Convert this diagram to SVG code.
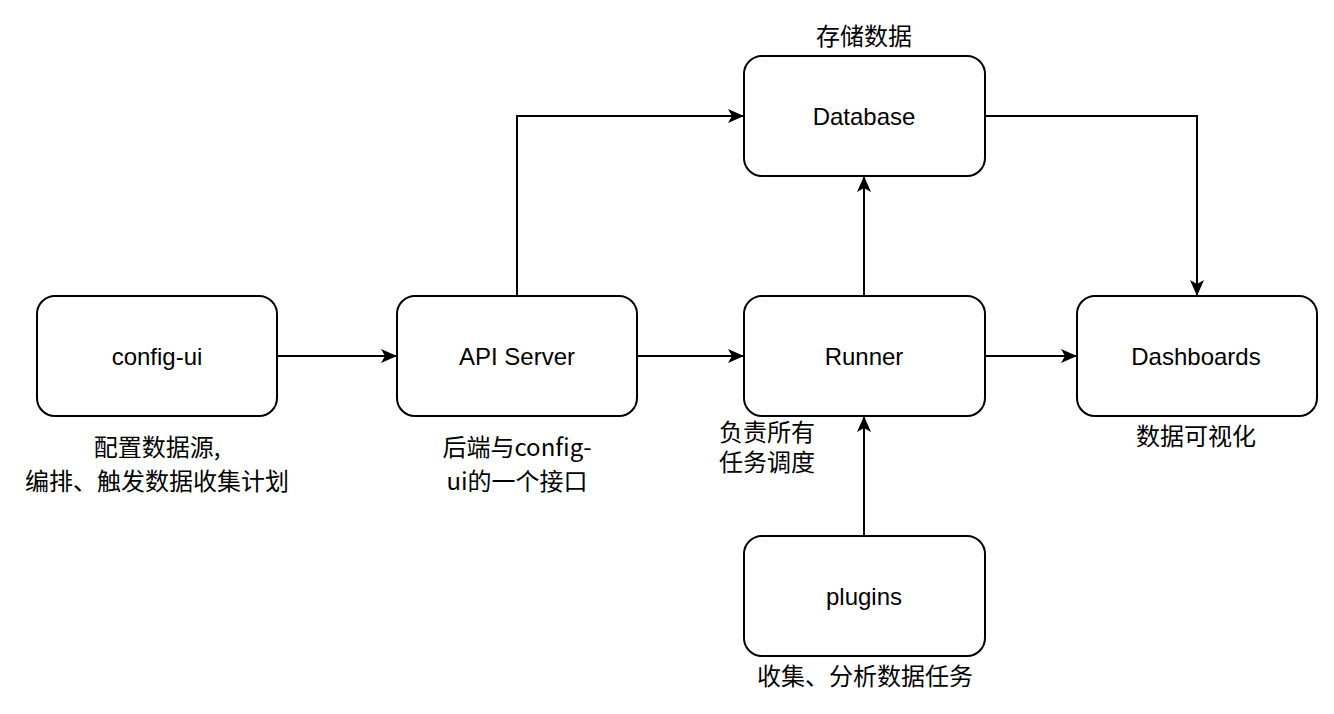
<svg xmlns="http://www.w3.org/2000/svg" width="1334" height="714" viewBox="0 0 1334 714">
<style>
.box{fill:#fff;stroke:#000;stroke-width:2}
.t{font-family:"Helvetica","Liberation Sans","Noto Sans CJK SC",sans-serif;font-size:24px;fill:#000;text-anchor:middle}
.c{font-family:"Noto Sans CJK SC","Liberation Sans",sans-serif;font-size:24px;fill:#000;text-anchor:middle}
.e{fill:none;stroke:#000;stroke-width:2}
</style>
<defs>
<marker id="arr" viewBox="0 0 16 14" refX="15" refY="7" markerWidth="16" markerHeight="14" markerUnits="userSpaceOnUse" orient="auto">
<path d="M0,0 L16,7 L0,14 L4,7 Z" fill="#000"/>
</marker>
</defs>
<rect width="1334" height="714" fill="#fff"/>
<g id="connectors">
<path class="e" d="M277,356 H396" marker-end="url(#arr)"/>
<path class="e" d="M637,356 H743" marker-end="url(#arr)"/>
<path class="e" d="M517,296 V116 H743" marker-end="url(#arr)"/>
<path class="e" d="M864,296 V177" marker-end="url(#arr)"/>
<path class="e" d="M985,356 H1076" marker-end="url(#arr)"/>
<path class="e" d="M985,116 H1197 V295" marker-end="url(#arr)"/>
<path class="e" d="M864,536 V417" marker-end="url(#arr)"/>
</g>
<g id="config-ui">
<rect class="box" x="37" y="296" width="240" height="120" rx="18"/>
<text class="t" x="157" y="365">config-ui</text>
<text class="c" x="157" y="456">配置数据源,</text>
<text class="c" x="157" y="490">编排、触发数据收集计划</text>
</g>
<g id="api-server">
<rect class="box" x="397" y="296" width="240" height="120" rx="18"/>
<text class="t" x="517" y="365">API Server</text>
<text class="c" x="517" y="456">后端与config-</text>
<text class="c" x="517" y="490">ui的一个接口</text>
</g>
<g id="database">
<rect class="box" x="744" y="56" width="241" height="120" rx="18"/>
<text class="t" x="864" y="125">Database</text>
<text class="c" x="864" y="45">存储数据</text>
</g>
<g id="runner">
<rect class="box" x="744" y="296" width="241" height="120" rx="18"/>
<text class="t" x="864" y="365">Runner</text>
<text class="c" x="767" y="441">负责所有</text>
<text class="c" x="767" y="471">任务调度</text>
</g>
<g id="dashboards">
<rect class="box" x="1077" y="296" width="240" height="120" rx="18"/>
<text class="t" x="1196" y="365">Dashboards</text>
<text class="c" x="1196" y="445">数据可视化</text>
</g>
<g id="plugins">
<rect class="box" x="744" y="536" width="241" height="120" rx="18"/>
<text class="t" x="864" y="605">plugins</text>
<text class="c" x="865" y="685">收集、分析数据任务</text>
</g>
</svg>
